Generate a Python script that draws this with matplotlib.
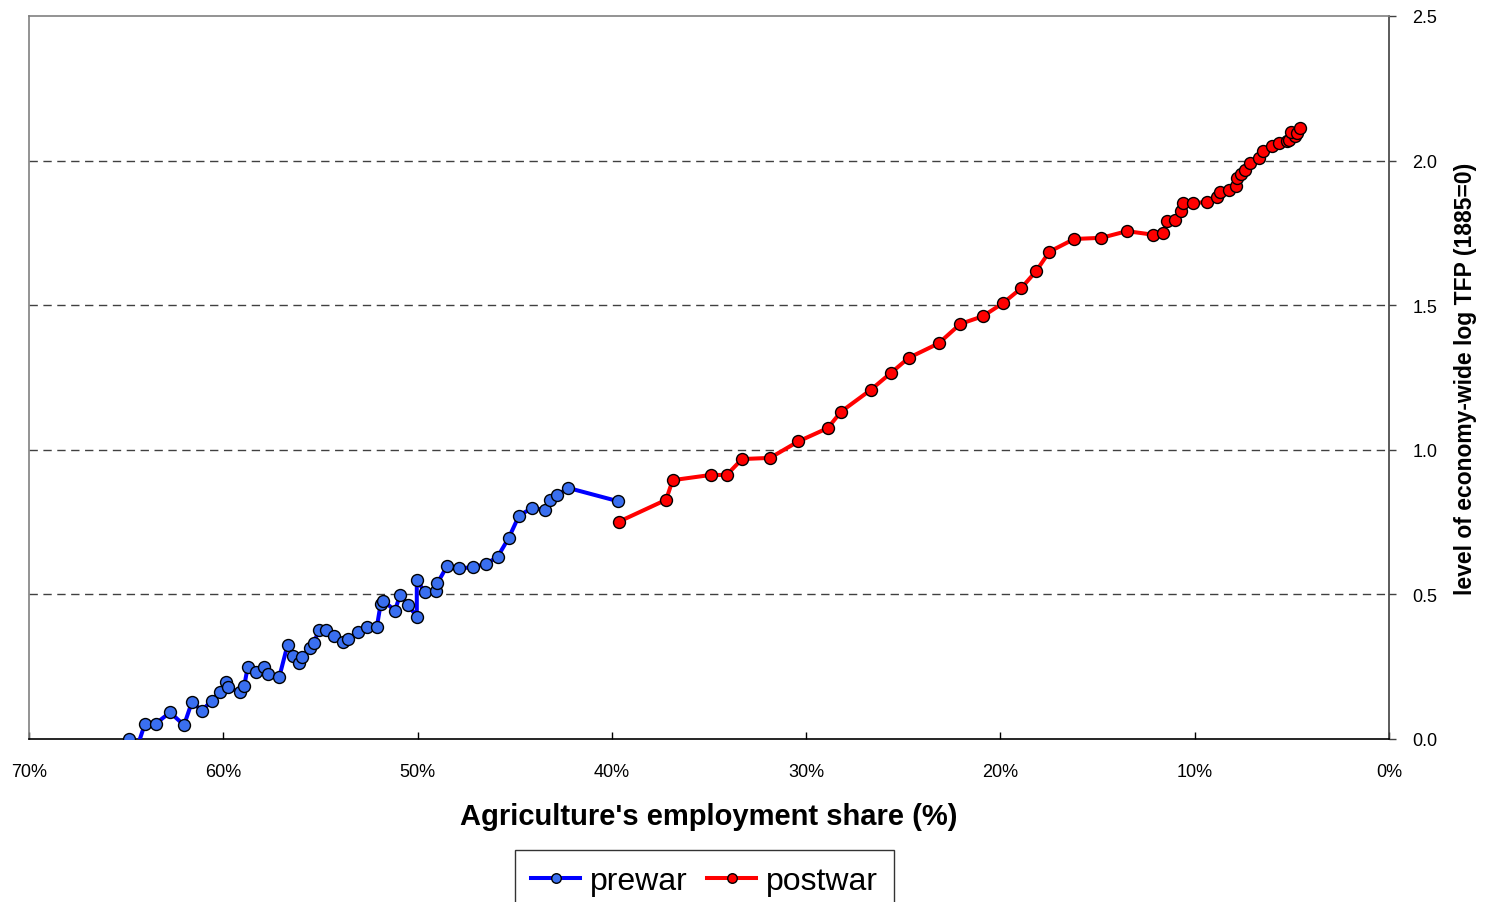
import matplotlib
matplotlib.use("Agg")
import matplotlib.pyplot as plt
from matplotlib.ticker import FuncFormatter

plt.rcParams['font.family'] = ['Liberation Sans', 'DejaVu Sans']

# Agriculture's employment share (%) and level of log TFP
prewar_share = [64.85, 64.44, 64.03, 63.48, 62.74, 62.02, 61.61, 61.11, 60.60, 60.17,
                59.84, 59.74, 59.16, 58.92, 58.74, 58.33, 57.90, 57.70, 57.12, 56.69,
                56.40, 56.09, 55.93, 55.54, 55.33, 55.09, 54.73, 54.30, 53.85, 53.57,
                53.05, 52.60, 52.10, 51.90, 51.76, 51.16, 50.90, 50.48, 50.04, 50.04,
                49.62, 49.05, 48.98, 48.47, 47.85, 47.16, 46.49, 45.88, 45.31, 44.78,
                44.13, 43.43, 43.18, 42.81, 42.24, 39.67]
prewar_tfp = [0.000, -0.030, 0.053, 0.053, 0.092, 0.048, 0.129, 0.098, 0.132, 0.164,
              0.196, 0.179, 0.161, 0.184, 0.250, 0.231, 0.250, 0.225, 0.214, 0.326,
              0.288, 0.262, 0.285, 0.314, 0.332, 0.377, 0.377, 0.357, 0.336, 0.346,
              0.371, 0.387, 0.386, 0.467, 0.478, 0.444, 0.499, 0.463, 0.423, 0.550,
              0.507, 0.513, 0.539, 0.599, 0.590, 0.594, 0.605, 0.630, 0.695, 0.772,
              0.798, 0.793, 0.826, 0.844, 0.868, 0.822]

postwar_share = [39.62, 37.21, 36.87, 34.91, 34.09, 33.30, 31.86, 30.40, 28.89, 28.20,
                 26.68, 25.65, 24.72, 23.18, 22.07, 20.90, 19.87, 18.94, 18.15, 17.48,
                 16.20, 14.80, 13.49, 12.16, 11.62, 11.44, 11.01, 10.71, 10.59, 10.09,
                 9.35, 8.87, 8.68, 8.22, 7.89, 7.84, 7.63, 7.43, 7.15, 6.69,
                 6.47, 6.04, 5.65, 5.27, 5.15, 4.84, 5.03, 4.75, 4.58]
postwar_tfp = [0.752, 0.827, 0.895, 0.913, 0.913, 0.968, 0.972, 1.029, 1.075, 1.132,
               1.207, 1.265, 1.318, 1.368, 1.435, 1.462, 1.507, 1.558, 1.619, 1.685,
               1.729, 1.733, 1.756, 1.744, 1.750, 1.792, 1.796, 1.827, 1.852, 1.852,
               1.858, 1.875, 1.892, 1.898, 1.911, 1.941, 1.955, 1.967, 1.993, 2.008,
               2.034, 2.049, 2.060, 2.067, 2.071, 2.086, 2.098, 2.095, 2.112]

x_ticks = [70, 60, 50, 40, 30, 20, 10, 0]
y_ticks = [0.0, 0.5, 1.0, 1.5, 2.0, 2.5]

fig = plt.figure(figsize=(14.85, 9.03), dpi=100)
ax = fig.add_axes([29/1485, 1 - 740/903, (1389 - 29)/1485, (740 - 17)/903])

ax.plot(prewar_share, prewar_tfp, color='#0000FF', lw=2.9, marker='o', ms=8.6,
        mfc='#3A6FF0', mec='black', mew=1.0, label='prewar', zorder=3)
ax.plot(postwar_share, postwar_tfp, color='#FF0000', lw=2.9, marker='o', ms=8.6,
        mfc='#FF0000', mec='black', mew=1.0, label='postwar', zorder=3)

ax.set_xlim(70, 0)
ax.set_ylim(0, 2.5)
ax.set_xticks(x_ticks)
ax.xaxis.set_major_formatter(FuncFormatter(lambda v, p: f"{int(round(v))}%"))
ax.set_yticks(y_ticks)
ax.yaxis.set_major_formatter(FuncFormatter(lambda v, p: f"{v:.1f}"))

ax.yaxis.tick_right()
ax.yaxis.set_label_position('right')
ax.tick_params(axis='y', direction='out', length=5, width=1, color='#404040',
               labelsize=13, pad=12)
ax.tick_params(axis='x', direction='in', length=5, width=1, color='black',
               labelsize=13, pad=17)

for yv in y_ticks[1:-1]:
    ax.axhline(yv, color='#404040', lw=1.0, ls=(0, (6, 4)), zorder=1)

ax.spines['left'].set_color('#808080')
ax.spines['top'].set_color('#808080')
ax.spines['right'].set_color('#404040')
ax.spines['bottom'].set_color('black')
for s in ax.spines.values():
    s.set_linewidth(1.2)

ax.set_xlabel("Agriculture's employment share (%)", fontsize=21, fontweight='bold',
              labelpad=16)
ax.set_ylabel("level of economy-wide log TFP (1885=0)", fontsize=16.5, fontweight='bold',
              labelpad=12)

leg = fig.legend(loc='upper center', bbox_to_anchor=(704.5/1485, 1 - 851/903),
                 borderaxespad=0.0,
                 ncol=2, fontsize=23, frameon=True, fancybox=False,
                 edgecolor='black', handlelength=1.55, handletextpad=0.3,
                 columnspacing=0.6, borderpad=0.5, markerscale=0.8)
leg.get_frame().set_linewidth(1.0)

fig.savefig('out.png', dpi=100)
